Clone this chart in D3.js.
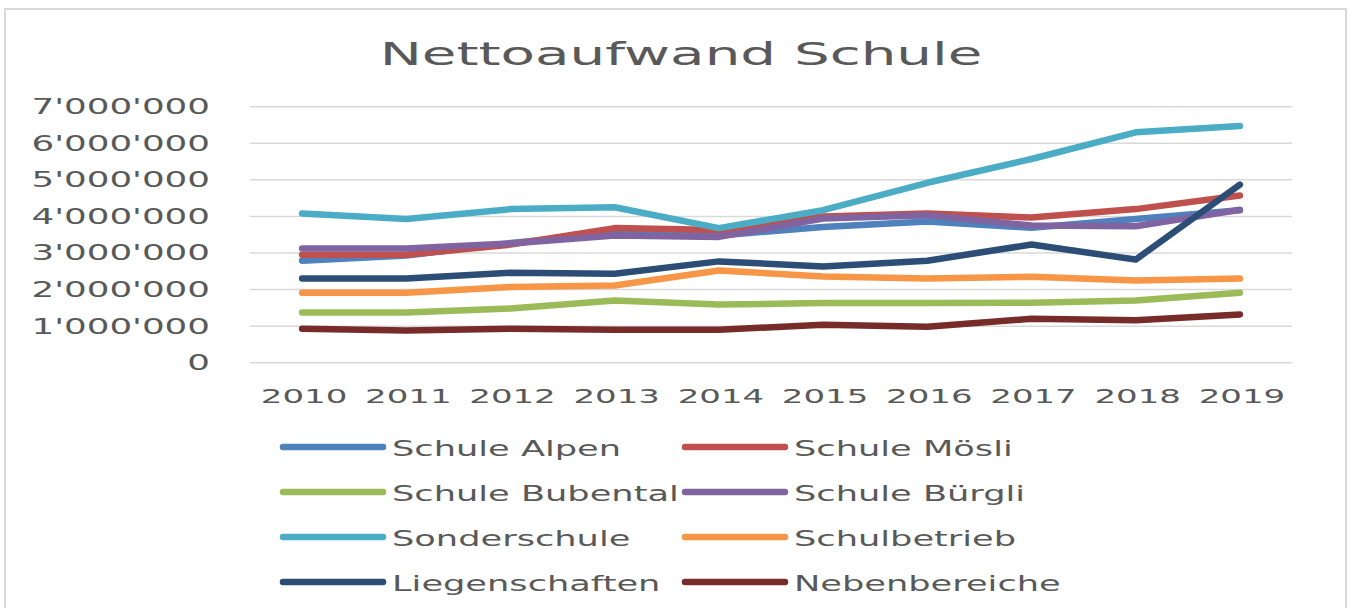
<!DOCTYPE html>
<html>
<head>
<meta charset="utf-8">
<script src="https://cdn.jsdelivr.net/npm/d3@7"></script>
<style>
  body { margin: 0; background: #fff; }
  text { font-family: 'DejaVu Sans', sans-serif; fill: #595959; }
</style>
</head>
<body>
<div id="chart"></div>
<script>
// categories
const years = ['2010', '2011', '2012', '2013', '2014', '2015', '2016', '2017', '2018', '2019'];

// series values (CHF)
const alpen = [2790000, 2930000, 3270000, 3530000, 3480000, 3710000, 3860000, 3690000, 3930000, 4170000];
const moesli = [2950000, 2950000, 3230000, 3680000, 3630000, 4000000, 4080000, 3970000, 4200000, 4570000];
const bubental = [1370000, 1370000, 1480000, 1700000, 1590000, 1630000, 1630000, 1640000, 1700000, 1910000];
const buergli = [3120000, 3120000, 3260000, 3480000, 3440000, 3940000, 4030000, 3750000, 3730000, 4180000];
const sonderschule = [4080000, 3930000, 4200000, 4250000, 3680000, 4170000, 4920000, 5570000, 6300000, 6470000];
const schulbetrieb = [1910000, 1910000, 2070000, 2110000, 2520000, 2360000, 2300000, 2350000, 2250000, 2300000];
const liegenschaften = [2300000, 2300000, 2460000, 2430000, 2770000, 2630000, 2790000, 3230000, 2820000, 4870000];
const nebenbereiche = [930000, 880000, 930000, 900000, 900000, 1040000, 980000, 1200000, 1160000, 1320000];

const seriesNames = ['Schule Alpen', 'Schule Mösli', 'Schule Bubental', 'Schule Bürgli',
    'Sonderschule', 'Schulbetrieb', 'Liegenschaften', 'Nebenbereiche'];
const seriesValues = [alpen, moesli, bubental, buergli, sonderschule, schulbetrieb, liegenschaften, nebenbereiche];
const seriesColors = ['#4F81BD', '#C0504D', '#9BBB59', '#8064A2', '#4BACC6', '#F79646', '#2C4D75', '#772C2A'];

// y tick labels
const yTicks = [0, 1000000, 2000000, 3000000, 4000000, 5000000, 6000000, 7000000];

const width = 1353;
const height = 608;
const plot = { left: 250, right: 1292, top: 106.7, bottom: 362.7 };
const stretch = 1.7; // the original text is drawn wide

const svg = d3.select('#chart').append('svg')
    .attr('width', width)
    .attr('height', height);

// chart frame
svg.append('rect')
    .attr('x', 5)
    .attr('y', 9)
    .attr('width', 1341)
    .attr('height', 640)
    .attr('fill', '#fff')
    .attr('stroke', '#d9d9d9')
    .attr('stroke-width', 2);

// title
svg.append('text')
    .attr('transform', `translate(681,65) scale(1.76,1)`)
    .attr('text-anchor', 'middle')
    .attr('font-size', '32px')
    .text('Nettoaufwand Schule');

const x = d3.scaleBand()
    .domain(years)
    .range([plot.left, plot.right]);

const y = d3.scaleLinear()
    .domain([0, 7000000])
    .range([plot.bottom, plot.top]);

// gridlines
svg.append('g')
    .selectAll('line')
    .data(yTicks)
    .join('line')
    .attr('x1', plot.left)
    .attr('x2', plot.right)
    .attr('y1', d => y(d))
    .attr('y2', d => y(d))
    .attr('stroke', '#d9d9d9')
    .attr('stroke-width', 1.5);

// y labels with ' as thousands separator
const fmt = d => d3.format(',')(d).replace(/,/g, "'");

svg.append('g')
    .selectAll('text')
    .data(yTicks)
    .join('text')
    .attr('transform', d => `translate(210,${y(d) + 7.5}) scale(${stretch},1)`)
    .attr('text-anchor', 'end')
    .attr('font-size', '21px')
    .text(fmt);

// x labels
svg.append('g')
    .selectAll('text')
    .data(years)
    .join('text')
    .attr('transform', d => `translate(${x(d) + x.bandwidth() / 2 + 2},403) scale(${stretch},1)`)
    .attr('text-anchor', 'middle')
    .attr('font-size', '20px')
    .text(d => d);

// lines
const line = d3.line()
    .x((d, i) => x(years[i]) + x.bandwidth() / 2)
    .y(d => y(d));

svg.append('g')
    .selectAll('path')
    .data(seriesValues)
    .join('path')
    .attr('d', line)
    .attr('fill', 'none')
    .attr('stroke', (d, i) => seriesColors[i])
    .attr('stroke-width', 6.5)
    .attr('stroke-linecap', 'round')
    .attr('stroke-linejoin', 'round');

// legend, two columns
const legend = svg.append('g')
    .selectAll('g')
    .data(seriesNames)
    .join('g')
    .attr('transform', (d, i) => `translate(${i % 2 === 0 ? 283 : 685},${447 + Math.floor(i / 2) * 45})`);

legend.append('line')
    .attr('x1', 0)
    .attr('x2', 100)
    .attr('stroke', (d, i) => seriesColors[i])
    .attr('stroke-width', 6.5)
    .attr('stroke-linecap', 'round');

legend.append('text')
    .attr('transform', 'translate(109,9) scale(1.6,1)')
    .attr('font-size', '22px')
    .text(d => d);
</script>
</body>
</html>
